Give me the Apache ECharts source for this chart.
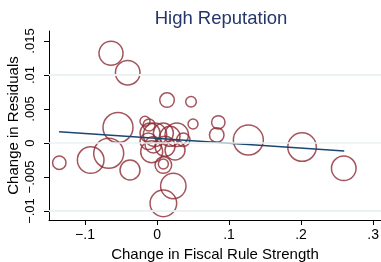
<!DOCTYPE html>
<html>
<head>
<meta charset="utf-8">
<script src="https://cdn.jsdelivr.net/npm/echarts@6/dist/echarts.min.js"></script>
<style>
  html, body { margin: 0; padding: 0; background: #fff; }
  #chart { width: 381px; height: 262px; }
</style>
</head>
<body>
<div id="chart"></div>
<script>
// change in fiscal rule strength, change in residuals, weight
const ruleChange = [-0.0639, -0.0407, 0.0139, 0.0472, 0.0500, -0.0542, 0.0851, 0.0829, 0.1268, 0.2014,
  0.2593, -0.1357, -0.0921, -0.0671, -0.0375, 0.0088, 0.0226, 0.0088, 0.0088, -0.0074,
  0.0250, -0.0167, -0.0111, -0.0097, -0.0121, -0.0028, 0.0088, 0.0180, 0.0274, -0.0051,
  0.0111, 0.0365]
const residChange = [0.01319, 0.01034, 0.00632, 0.00607, 0.00280, 0.00228, 0.00304, 0.00118, 0.00044, -0.00059,
  -0.00372, -0.00290, -0.00250, -0.00151, -0.00397, -0.00887, -0.00632, -0.00324, -0.00309, -0.00128,
  -0.00103, 0.00320, 0.00265, 0.00147, 0.00025, 0.00122, 0.00147, 0.00099, 0.00122, -0.00025,
  -0.00049, 0.00049]
const weights = [14.4, 15.1, 5.3, 2.8, 2.5, 22.5, 4.5, 5.3, 22.5, 20.4,
  15.1, 4.5, 17.7, 22.5, 10, 17.7, 16.1, 6.9, 2.5, 12.1,
  10, 2.5, 3.6, 10, 6.9, 13.7, 10, 10, 13.7, 6.9,
  10, 4.5]
// fitted line end points
const fitX = [-0.136, 0.26]
const fitY = [0.00166, -0.00118]

const xTicks = [-0.1, 0, 0.1, 0.2, 0.3]
const yTicks = [-0.01, -0.005, 0, 0.005, 0.01, 0.015]

function stataFmt(v) {
    if (Math.abs(v) < 1e-12) return '0'
    const s = String(+Math.abs(v).toFixed(4)).replace(/^0/, '')
    return (v < 0 ? '\u2212' : '') + s
}

const font = 'Liberation Sans, Arial, sans-serif'
const chart = echarts.init(document.getElementById('chart'))

const option = {
    animation: false,
    title: {
        text: 'High Reputation',
        left: 216,
        top: 4,
        textAlign: 'center',
        textStyle: { fontFamily: font, fontSize: 18.5, fontWeight: 'normal', color: '#24366a' }
    },
    grid: { left: 49, top: 31, right: 0, bottom: 42, outerBoundsMode: 'none', containLabel: false },
    xAxis: {
        type: 'value',
        min: -0.15,
        max: 0.311,
        name: 'Change in Fiscal Rule Strength',
        nameLocation: 'middle',
        nameGap: 27,
        nameTextStyle: { fontFamily: font, fontSize: 15, color: '#000' },
        axisLine: { onZero: false, lineStyle: { color: '#000', width: 1 } },
        axisTick: { show: true, length: 5, customValues: xTicks, lineStyle: { color: '#000' } },
        axisLabel: { customValues: xTicks, formatter: stataFmt, fontFamily: font, fontSize: 14, color: '#000', margin: 8 },
        splitLine: { show: false }
    },
    yAxis: {
        type: 'value',
        min: -0.01132,
        max: 0.01647,
        name: 'Change in Residuals',
        nameLocation: 'middle',
        nameGap: 28,
        nameMoveOverlap: false,
        nameTextStyle: { fontFamily: font, fontSize: 15, color: '#000' },
        axisLine: { show: true, onZero: false, lineStyle: { color: '#000', width: 1 } },
        axisTick: { show: true, length: 5, customValues: yTicks, lineStyle: { color: '#000' } },
        axisLabel: { customValues: yTicks, formatter: stataFmt, rotate: 90, fontFamily: font, fontSize: 13, color: '#000', margin: 12 },
        splitLine: { show: false }
    },
    series: [
        {
            type: 'line',
            data: [],
            silent: true,
            markLine: {
                silent: true,
                symbol: 'none',
                label: { show: false },
                lineStyle: { color: '#eaf2f3', width: 1.5, type: 'solid' },
                data: yTicks.map(v => ({ yAxis: v }))
            }
        },
        {
            type: 'scatter',
            data: ruleChange.map((x, i) => [x, residChange[i], weights[i]]),
            symbolSize: d => 2 * Math.sqrt(d[2] * 10),
            itemStyle: { color: 'rgba(0,0,0,0)', borderColor: '#8c2a33', borderWidth: 1.5 }
        },
        {
            type: 'line',
            data: fitX.map((x, i) => [x, fitY[i]]),
            showSymbol: false,
            lineStyle: { color: '#1a476f', width: 1.4 }
        }
    ]
}
chart.setOption(option)
</script>
</body>
</html>
